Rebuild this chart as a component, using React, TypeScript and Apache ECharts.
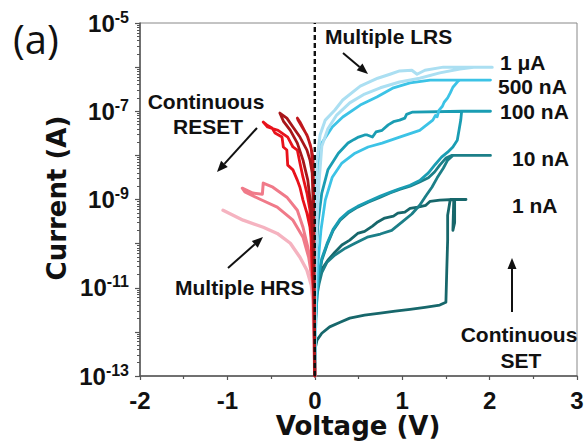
import React, { useEffect, useRef } from 'react';
import * as echarts from 'echarts';

type Pt = [number, number];

// ---- data: [voltage (V), current (A)] ----
const setCurve1nA: Pt[] = [
  [0, 1.0e-13], [0.0, 3.8e-13], [0.025, 6.5e-13], [0.08, 9.3e-13], [0.17, 1.3e-12], [0.29, 1.66e-12],
  [0.4, 2.05e-12], [0.57, 2.4e-12], [0.75, 2.65e-12], [0.92, 2.95e-12], [1.09, 3.25e-12], [1.26, 3.6e-12],
  [1.43, 4.05e-12], [1.5, 4.7e-12], [1.51, 2.5e-11], [1.52, 1.2e-10], [1.52, 4.4e-10], [1.55, 1.0e-9],
  [1.73, 1.0e-9], [1.6, 1.0e-9], [1.6, 3.0e-10], [1.58, 2.0e-10], [1.59, 1.0e-9], [1.43, 9.7e-10],
  [1.32, 9.1e-10], [1.27, 7.4e-10], [1.18, 6.7e-10], [1.09, 6.3e-10], [1.03, 5.2e-10], [0.95, 4.9e-10],
  [0.9, 4.2e-10], [0.8, 3.8e-10], [0.72, 3.1e-10], [0.66, 2.5e-10], [0.57, 1.9e-10], [0.49, 1.7e-10],
  [0.4, 1.2e-10], [0.31, 9.3e-11], [0.23, 6.4e-11], [0.15, 4.2e-11], [0.09, 2.8e-11], [0.05, 1.7e-11],
  [0.015, 8.9e-12], [0.003, 1.85e-12], [0, 1.0e-13],
];

const setCurve10nA: Pt[] = [
  [0, 1.0e-13], [0.01, 1.85e-12], [0.025, 6.8e-12], [0.05, 1.26e-11], [0.08, 2.2e-11], [0.14, 3.8e-11],
  [0.23, 5.5e-11], [0.35, 7.9e-11], [0.46, 1.02e-10], [0.6, 1.4e-10], [0.75, 1.65e-10], [0.88, 2.0e-10],
  [1.0, 3.1e-10], [1.11, 4.7e-10], [1.2, 7.4e-10], [1.27, 1.2e-9], [1.34, 1.9e-9], [1.4, 3.1e-9],
  [1.47, 5.1e-9], [1.52, 7.8e-9], [1.58, 1.0e-8], [2.01, 1.0e-8],
  [1.57, 1.0e-8], [1.5, 8.7e-9], [1.43, 6.0e-9], [1.37, 4.2e-9], [1.3, 3.1e-9], [1.2, 2.5e-9],
  [1.09, 2.0e-9], [0.97, 1.7e-9], [0.86, 1.4e-9], [0.75, 1.13e-9], [0.61, 8.7e-10], [0.49, 6.7e-10],
  [0.38, 4.9e-10], [0.29, 3.4e-10], [0.21, 2.0e-10], [0.14, 9.3e-11], [0.08, 4.2e-11], [0.04, 1.5e-11],
  [0.015, 5.2e-12], [0, 1.0e-13],
];

const setCurve100nA: Pt[] = [
  [0, 1.0e-13], [0.01, 2.0e-12], [0.04, 1.7e-11], [0.08, 4.6e-11], [0.14, 1.0e-10], [0.21, 2.1e-10],
  [0.29, 3.6e-10], [0.38, 5.2e-10], [0.49, 7.0e-10], [0.61, 9.0e-10], [0.75, 1.2e-9], [0.86, 1.45e-9],
  [0.97, 1.75e-9], [1.09, 2.1e-9], [1.2, 2.7e-9], [1.3, 4.0e-9], [1.38, 6.3e-9], [1.45, 9.1e-9],
  [1.52, 1.18e-8], [1.58, 1.55e-8], [1.63, 2.2e-8], [1.65, 3.7e-8], [1.67, 6.3e-8], [1.68, 1.0e-7],
  [2.01, 1.0e-7],
  [1.68, 1.0e-7], [1.12, 9.6e-8], [1.05, 8.5e-8], [1.03, 7.0e-8], [0.97, 6.3e-8], [0.9, 5.8e-8],
  [0.84, 4.9e-8], [0.77, 3.7e-8], [0.7, 3.4e-8], [0.66, 2.6e-8], [0.6, 2.9e-8], [0.57, 2.9e-8],
  [0.5, 2.6e-8], [0.45, 2.3e-8], [0.38, 1.9e-8], [0.27, 1.12e-8], [0.15, 4.7e-9], [0.08, 1.4e-9],
  [0.04, 3.4e-10], [0.015, 7.1e-11], [0, 1.0e-13],
];

const setCurve500nA: Pt[] = [
  [0, 1.0e-13], [0.015, 5.2e-12], [0.04, 4.2e-11], [0.07, 2.0e-10], [0.12, 9.7e-10], [0.2, 3.2e-9],
  [0.31, 6.7e-9], [0.46, 1.12e-8], [0.61, 1.55e-8], [0.77, 1.9e-8], [0.97, 2.6e-8], [1.2, 3.7e-8],
  [1.35, 6.3e-8], [1.38, 8.0e-8], [1.4, 7.5e-8], [1.42, 1.05e-7], [1.46, 1.3e-7], [1.48, 1.6e-7],
  [1.52, 2.0e-7], [1.55, 2.6e-7], [1.58, 3.5e-7], [1.64, 4.8e-7], [1.66, 5.1e-7], [2.01, 5.1e-7],
  [1.32, 5.1e-7], [1.09, 4.4e-7], [0.9, 3.4e-7], [0.71, 2.1e-7], [0.52, 1.38e-7], [0.32, 7.4e-8],
  [0.2, 4.4e-8], [0.08, 1.9e-8], [0.04, 6.0e-9], [0.015, 9.7e-10], [0, 1.0e-13],
];

const setCurve1uA: Pt[] = [
  [0, 1.0e-13], [0.01, 1.5e-11], [0.025, 3.4e-10], [0.05, 2.75e-9], [0.08, 1.6e-8], [0.15, 4.0e-8],
  [0.25, 8.2e-8], [0.4, 1.55e-7], [0.57, 2.45e-7], [0.75, 3.4e-7], [0.97, 4.6e-7], [1.2, 5.6e-7],
  [1.43, 7.4e-7], [1.66, 9.1e-7], [1.84, 1.0e-6], [2.03, 1.0e-6],
  [1.47, 1.0e-6], [1.26, 8.5e-7], [1.17, 6.9e-7], [1.11, 8.5e-7], [0.97, 8.2e-7], [0.86, 6.9e-7],
  [0.72, 5.6e-7], [0.52, 3.7e-7], [0.32, 1.8e-7], [0.23, 1.07e-7], [0.12, 6.3e-8], [0.06, 2.9e-8],
  [0.025, 7.8e-9], [0.005, 3.4e-10], [0, 1.0e-13],
];

const resetDarkA: Pt[] = [
  [0, 1e-13], [-0.01, 5.2e-12], [-0.02, 7.1e-11], [-0.02, 9.7e-10], [-0.03, 4.0e-9], [-0.055, 7.8e-9],
  [-0.09, 1.32e-8], [-0.17, 2.6e-8], [-0.25, 4.4e-8], [-0.32, 7.0e-8], [-0.4, 9.1e-8], [-0.36, 6.0e-8],
  [-0.28, 3.7e-8], [-0.2, 1.9e-8], [-0.135, 7.8e-9], [-0.08, 2.75e-9], [-0.04, 5.7e-10], [-0.02, 7.1e-11],
  [-0.01, 5.2e-12], [0, 1e-13],
];

const resetDarkB: Pt[] = [
  [0, 1e-13], [-0.005, 1.0e-11], [-0.01, 4.0e-10], [-0.02, 4.7e-9], [-0.04, 1.4e-8], [-0.08, 2.6e-8],
  [-0.12, 3.7e-8], [-0.17, 5.7e-8], [-0.2, 7.0e-8], [-0.19, 6.2e-8], [-0.14, 4.2e-8], [-0.09, 2.9e-8],
  [-0.05, 1.7e-8], [-0.02, 9.1e-9], [-0.01, 3.4e-10], [0, 1e-13],
];

const resetRed: Pt[] = [
  [0, 1e-13], [-0.01, 5.2e-12], [-0.03, 2.5e-11], [-0.055, 5.7e-10], [-0.09, 1.4e-9], [-0.135, 3.2e-9],
  [-0.17, 6.7e-9], [-0.2, 1.32e-8], [-0.25, 1.55e-8], [-0.31, 2.6e-8], [-0.42, 3.7e-8], [-0.54, 4.4e-8],
  [-0.59, 5.7e-8], [-0.55, 4.9e-8], [-0.49, 4.2e-8], [-0.455, 3.2e-8], [-0.375, 2.6e-8], [-0.36, 1.55e-8],
  [-0.32, 1.32e-8], [-0.31, 6.0e-9], [-0.25, 4.7e-9], [-0.2, 2.75e-9], [-0.17, 1.9e-9], [-0.135, 9.7e-10],
  [-0.09, 4.9e-10], [-0.055, 2.35e-10], [-0.03, 7.1e-11], [-0.01, 5.2e-12], [0, 1e-13],
];

const resetPink: Pt[] = [
  [0, 1e-13], [-0.01, 5.2e-12], [-0.03, 2.5e-11], [-0.08, 8.3e-11], [-0.135, 2.35e-10], [-0.2, 5.7e-10],
  [-0.32, 1.13e-9], [-0.48, 1.9e-9], [-0.59, 2.35e-9], [-0.6, 1.32e-9], [-0.71, 1.4e-9], [-0.83, 1.8e-9],
  [-0.8, 1.48e-9], [-0.62, 1.0e-9], [-0.43, 6.7e-10], [-0.25, 3.4e-10], [-0.135, 1.4e-10], [-0.07, 4.9e-11],
  [-0.02, 1.15e-11], [0, 1e-13],
];

const resetLightPink: Pt[] = [
  [0, 1e-13], [-0.02, 5.2e-12], [-0.04, 1.15e-11], [-0.09, 2.5e-11], [-0.17, 4.9e-11], [-0.28, 1.02e-10],
  [-0.43, 1.7e-10], [-0.59, 2.35e-10], [-0.82, 3.4e-10], [-1.05, 5.7e-10],
];

const zeroLine: Pt[] = [[0, 1e-13], [0, 1e-5]];

const complianceLabels = ['1 μA', '500 nA', '100 nA', '10 nA', '1 nA'];
const minorMultipliers = [2, 3, 4, 5, 6, 7, 8, 9];
const decadeExponents = [-13, -12, -11, -10, -9, -8, -7, -6];

// ---- styling ----
const FONT = '"Liberation Sans", Arial, sans-serif';
const TITLE_FONT = '"DejaVu Sans", sans-serif';
const AXIS_COLOR = '#555';

function arrow(x1: number, y1: number, x2: number, y2: number) {
  const dx = x2 - x1, dy = y2 - y1;
  const len = Math.hypot(dx, dy);
  const ux = dx / len, uy = dy / len;
  const hl = 11, hw = 4.5;
  const bx = x2 - ux * hl, by = y2 - uy * hl;
  return [
    { type: 'line', shape: { x1, y1, x2: bx, y2: by }, style: { stroke: '#111', lineWidth: 2 } },
    {
      type: 'polygon',
      shape: { points: [[x2, y2], [bx - uy * hw, by + ux * hw], [bx + uy * hw, by - ux * hw]] },
      style: { fill: '#111' },
    },
  ];
}

function txt(text: string, x: number, y: number, align: string, size = 21, family = FONT, weight: any = 'bold') {
  return {
    type: 'text',
    x,
    y,
    style: { text, fill: '#111', fontSize: size, fontWeight: weight, fontFamily: family, align, verticalAlign: 'middle' },
  };
}

function lineSeries(name: string, data: Pt[], color: string, width = 2.8) {
  return {
    name,
    type: 'line',
    data,
    showSymbol: false,
    symbol: 'none',
    lineStyle: { color, width, join: 'round', cap: 'round' },
    clip: true,
    silent: true,
  };
}

export default function App() {
  const ref = useRef<HTMLDivElement>(null);

  useEffect(() => {
    const chart = echarts.init(ref.current!, null, { renderer: 'svg' });
    const minorValues: number[] = [];
    decadeExponents.forEach((e) => minorMultipliers.forEach((m) => minorValues.push(m * Math.pow(10, e))));

    const option: any = {
      animation: false,
      backgroundColor: '#fff',
      grid: {
        left: 140, right: 8, top: 23, bottom: 72,
        show: true, borderColor: '#888', borderWidth: 1, outerBoundsMode: 'none',
      },
      xAxis: {
        type: 'value', min: -2, max: 3, interval: 1,
        axisLine: { show: true, onZero: false, lineStyle: { color: AXIS_COLOR, width: 1.5 } },
        axisTick: { show: true, length: 4, lineStyle: { color: AXIS_COLOR, width: 1.2 } },
        minorTick: { show: true, splitNumber: 2, length: 3, lineStyle: { color: AXIS_COLOR, width: 1.2 } },
        splitLine: { show: false },
        axisLabel: { margin: 12, color: '#111', fontSize: 24, fontWeight: 'bold', fontFamily: FONT },
      },
      yAxis: [
        {
          type: 'log', logBase: 10, min: 1e-13, max: 1e-5, position: 'left',
          axisLine: { show: true, onZero: false, lineStyle: { color: AXIS_COLOR, width: 1.5 } },
          axisTick: { show: true, length: 5, lineStyle: { color: AXIS_COLOR, width: 1.2 } },
          splitLine: { show: false },
          axisLabel: {
            interval: 0, margin: 11, showMinLabel: true, showMaxLabel: true,
            formatter: (v: number) => {
              const e = Math.round(Math.log10(v));
              return e % 2 !== 0 ? `{b|10}{s|${e}}` : '';
            },
            rich: {
              b: { fontSize: 24, fontWeight: 'bold', fontFamily: FONT, color: '#111', lineHeight: 28 },
              s: { fontSize: 16, fontWeight: 'bold', fontFamily: FONT, color: '#111', lineHeight: 18, verticalAlign: 'top' },
            },
          },
        },
        {
          type: 'log', logBase: 10, min: 1e-13, max: 1e-5, position: 'left', offset: 0,
          axisLine: { show: false, onZero: false },
          axisLabel: { show: false },
          splitLine: { show: false },
          axisTick: { show: true, length: 3, customValues: minorValues, lineStyle: { color: AXIS_COLOR, width: 1 } },
        },
      ],
      series: [
        lineSeries('1 nA', setCurve1nA, '#17676b'),
        lineSeries('10 nA', setCurve10nA, '#1c7f88'),
        lineSeries('100 nA', setCurve100nA, '#1a9db3'),
        lineSeries('500 nA', setCurve500nA, '#3cc3e6'),
        lineSeries('1 μA', setCurve1uA, '#abdff2', 3),
        lineSeries('HRS light', resetLightPink, '#f5b3c0', 3.4),
        lineSeries('HRS pink', resetPink, '#f07a89', 3),
        lineSeries('RESET red', resetRed, '#e8121b'),
        lineSeries('RESET dark B', resetDarkB, '#c0181d'),
        lineSeries('RESET dark A', resetDarkA, '#a8161a'),
        {
          name: 'V = 0',
          type: 'line',
          data: zeroLine,
          showSymbol: false,
          symbol: 'none',
          silent: true,
          lineStyle: { color: '#111', width: 2.4, type: [5, 3] },
        },
      ],
      graphic: [
        txt('(a)', 13, 38, 'left', 40, '"Open Sans", "Noto Sans", sans-serif', 'normal'),
        {
          type: 'text', x: 57, y: 198, rotation: Math.PI / 2,
          style: { text: 'Current (A)', fill: '#111', fontSize: 26, fontWeight: 'bold', fontFamily: TITLE_FONT, align: 'center', verticalAlign: 'middle' },
        },
        txt('Voltage (V)', 358, 426, 'center', 26, TITLE_FONT),
        txt('Multiple LRS', 325, 36, 'left'),
        txt(complianceLabels[0], 500, 62, 'left'),
        txt(complianceLabels[1], 498, 86, 'left'),
        txt(complianceLabels[2], 500, 111, 'left'),
        txt(complianceLabels[3], 512, 158, 'left'),
        txt(complianceLabels[4], 512, 205, 'left'),
        txt('Continuous', 206, 101, 'center'),
        txt('RESET', 208, 126, 'center'),
        txt('Multiple HRS', 175, 287, 'left'),
        txt('Continuous', 519, 334, 'center'),
        txt('SET', 521, 360, 'center'),
        ...arrow(257, 128, 217, 172),
        ...arrow(343, 53, 368, 74),
        ...arrow(228, 268, 263, 237),
        ...arrow(512, 312, 512, 258),
      ],
    };
    chart.setOption(option);
    return () => chart.dispose();
  }, []);

  return (
    <div
      ref={ref}
      style={{ position: 'fixed', left: 0, top: 0, width: 585, height: 448, background: '#fff' }}
    />
  );
}
